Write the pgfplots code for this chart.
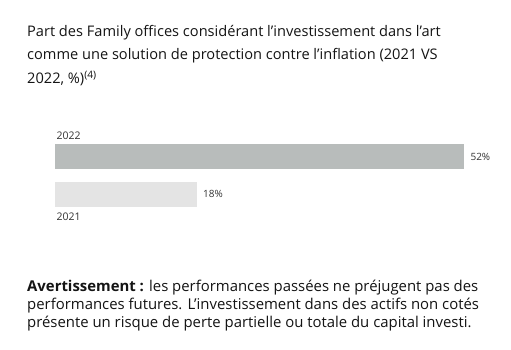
\documentclass[border=0pt]{standalone}
\usepackage{pgfplots}
\pgfplotsset{compat=1.18}
\usepackage{fontspec}
\setmainfont{Open Sans}
\definecolor{bardark}{HTML}{B8BCBB}
\definecolor{barlight}{HTML}{E4E4E4}
\definecolor{txt}{HTML}{141414}
\definecolor{lbl}{HTML}{333333}
\begin{document}
\begin{tikzpicture}[x=1pt,y=1pt]
\path[use as bounding box,fill=white] (0,0) rectangle (511,-350);
\node[anchor=north west,inner sep=0pt,align=left,text=txt,font=\fontsize{14.6}{23.5}\selectfont] at (27,-25)
{Part des Family offices considérant l'investissement dans l'art\\
comme une solution de protection contre l'inflation (2021 VS\\
2022, \%)\textsuperscript{(4)}};
\begin{axis}[
  at={(55pt,-137.75pt)}, anchor=north west,
  scale only axis, width=409pt, height=75pt,
  xmin=0, xmax=52, ymin=0.5, ymax=2.5,
  axis lines=none, ticks=none,
  xbar, bar width=25pt, bar shift=0pt,
  clip=false,
  /pgf/number format/assume math mode=true,
  nodes near coords={\pgfmathprintnumber{\pgfplotspointmeta}\%},
  every node near coord/.append style={font=\fontsize{10}{11}\selectfont, text=lbl, xshift=3pt},
]
\addplot[draw=none, fill=barlight] coordinates {(18,1)};
\addplot[draw=none, fill=bardark] coordinates {(52,2)};
\node[anchor=south west,inner sep=0pt,font=\fontsize{10.5}{11}\selectfont,text=lbl] at (axis cs:0,2) [xshift=1.5pt,yshift=17pt] {2022};
\node[anchor=north west,inner sep=0pt,font=\fontsize{10.5}{11}\selectfont,text=lbl] at (axis cs:0,1) [xshift=1.5pt,yshift=-18.5pt] {2021};
\end{axis}
\node[anchor=north west,inner sep=0pt,align=left,text=txt,font=\fontsize{14.9}{18}\selectfont] at (27,-279.5)
{\textbf{Avertissement :} les performances passées ne préjugent pas des\\
performances futures. L’investissement dans des actifs non cotés\\
présente un risque de perte partielle ou totale du capital investi.};
\end{tikzpicture}
\end{document}
